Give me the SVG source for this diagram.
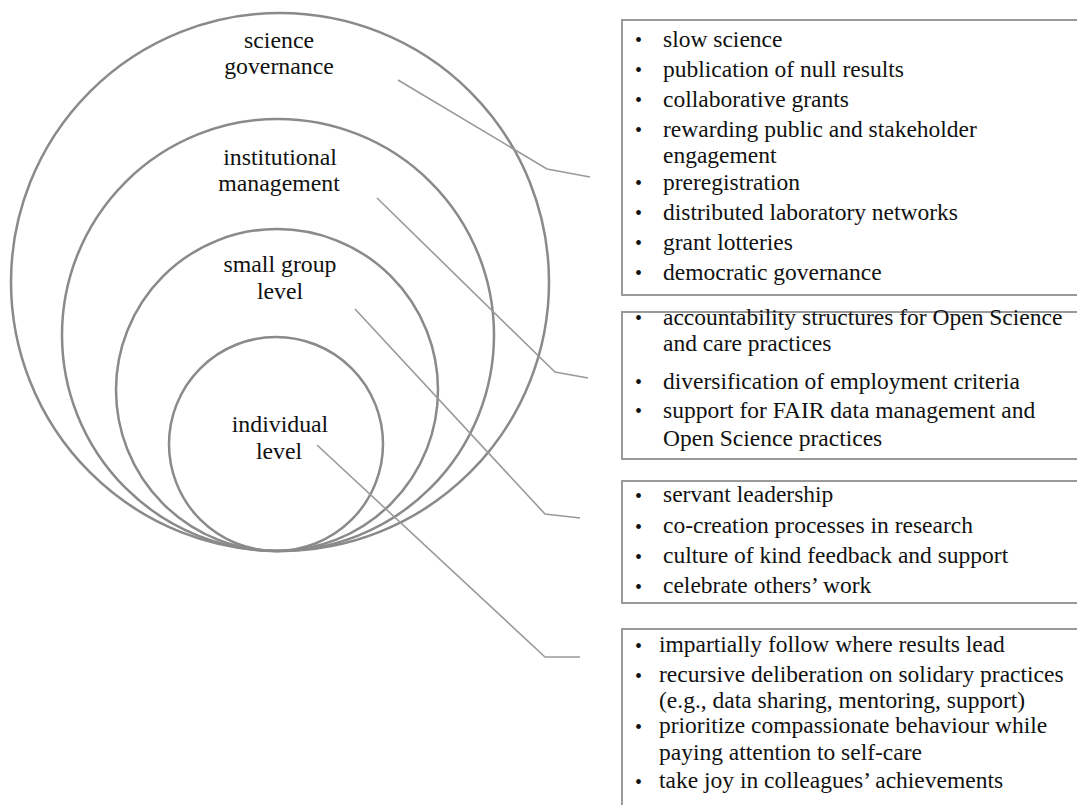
<svg xmlns="http://www.w3.org/2000/svg" width="1077" height="805" viewBox="0 0 1077 805">
<style>
.ring{fill:none;stroke:#8a8a8a;stroke-width:2.5}
.lbl{font-family:"Liberation Serif","Times New Roman",serif;font-size:23.8px;fill:#111;text-anchor:middle}
.box{fill:#fff;stroke:#9a9a9a;stroke-width:2}
.t{font-family:"Liberation Serif","Times New Roman",serif;font-size:23.5px;fill:#111}
.b{font-family:"Liberation Serif","Times New Roman",serif;font-size:20px;fill:#111}
.con{fill:none;stroke:#9a9a9a;stroke-width:1.6}
</style>
<rect width="1077" height="805" fill="#fff"/>
<g id="science-governance">
<circle class="ring" cx="280" cy="282" r="269"/>
<text class="lbl" x="279" y="48">science</text>
<text class="lbl" x="279" y="74">governance</text>
</g>
<g id="institutional-management">
<circle class="ring" cx="278" cy="335" r="216"/>
<text class="lbl" x="280" y="165">institutional</text>
<text class="lbl" x="279" y="191">management</text>
</g>
<g id="small-group-level">
<circle class="ring" cx="277" cy="390" r="161"/>
<text class="lbl" x="280" y="272">small group</text>
<text class="lbl" x="280" y="299">level</text>
</g>
<g id="individual-level">
<circle class="ring" cx="276" cy="444" r="107"/>
<text class="lbl" x="280" y="432">individual</text>
<text class="lbl" x="279" y="459">level</text>
</g>
<g id="connectors">
<polyline class="con" points="398,80 547,169 590,177"/>
<polyline class="con" points="377,198 555,372 588,378"/>
<polyline class="con" points="355,309 545,514 580,518"/>
<polyline class="con" points="317,445 545,657 580,657"/>
</g>
<g id="box-governance">
<rect class="box" x="622" y="20" width="470" height="275"/>
<text class="b" x="635" y="47">•</text><text class="t" x="663" y="47">slow science</text>
<text class="b" x="635" y="77">•</text><text class="t" x="663" y="77">publication of null results</text>
<text class="b" x="635" y="107">•</text><text class="t" x="663" y="107">collaborative grants</text>
<text class="b" x="635" y="137">•</text><text class="t" x="663" y="137">rewarding public and stakeholder</text>
<text class="t" x="663" y="163">engagement</text>
<text class="b" x="635" y="190">•</text><text class="t" x="663" y="190">preregistration</text>
<text class="b" x="635" y="220">•</text><text class="t" x="663" y="220">distributed laboratory networks</text>
<text class="b" x="635" y="250">•</text><text class="t" x="663" y="250">grant lotteries</text>
<text class="b" x="635" y="280">•</text><text class="t" x="663" y="280">democratic governance</text>
</g>
<g id="box-institutional">
<rect class="box" x="622" y="312" width="470" height="147"/>
<text class="b" x="635" y="325">•</text><text class="t" x="663" y="325">accountability structures for Open Science</text>
<text class="t" x="663" y="351">and care practices</text>
<text class="b" x="635" y="389">•</text><text class="t" x="663" y="389">diversification of employment criteria</text>
<text class="b" x="635" y="418">•</text><text class="t" x="663" y="418">support for FAIR data management and</text>
<text class="t" x="663" y="446">Open Science practices</text>
</g>
<g id="box-small-group">
<rect class="box" x="622" y="481" width="470" height="122"/>
<text class="b" x="635" y="503">•</text><text class="t" x="663" y="502">servant leadership</text>
<text class="b" x="635" y="534">•</text><text class="t" x="663" y="533">co-creation processes in research</text>
<text class="b" x="635" y="564">•</text><text class="t" x="663" y="563">culture of kind feedback and support</text>
<text class="b" x="635" y="594">•</text><text class="t" x="663" y="593">celebrate others’ work</text>
</g>
<g id="box-individual">
<rect class="box" x="622" y="629" width="470" height="200"/>
<text class="b" x="635" y="653">•</text><text class="t" x="659" y="652">impartially follow where results lead</text>
<text class="b" x="635" y="683">•</text><text class="t" x="659" y="682">recursive deliberation on solidary practices</text>
<text class="t" x="659" y="708">(e.g., data sharing, mentoring, support)</text>
<text class="b" x="635" y="734">•</text><text class="t" x="659" y="733">prioritize compassionate behaviour while</text>
<text class="t" x="659" y="760">paying attention to self-care</text>
<text class="b" x="635" y="789">•</text><text class="t" x="659" y="788">take joy in colleagues’ achievements</text>
</g>
</svg>
